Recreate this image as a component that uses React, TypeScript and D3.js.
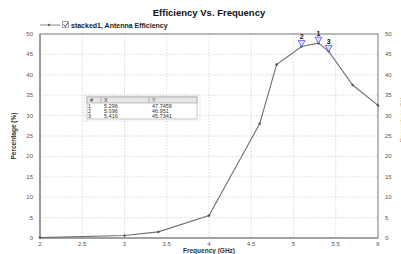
import * as d3 from 'd3';

const freq = [2, 3, 3.4, 4, 4.6, 4.8, 5.096, 5.296, 5.416, 5.7, 6];
const eff = [0.1, 0.6, 1.5, 5.5, 28, 42.5, 46.95, 47.75, 45.73, 37.5, 32.5];

const xTicks = [2, 2.5, 3, 3.5, 4, 4.5, 5, 5.5, 6];
const yTicks = [0, 5, 10, 15, 20, 25, 30, 35, 40, 45, 50];

const markerIds = ['1', '2', '3'];
const markerX = [5.296, 5.096, 5.416];
const markerY = [47.7459, 46.951, 45.7341];

const W = 401;
const H = 254;
const font = 'Liberation Sans, Arial, sans-serif';

export default function App() {
  const x = d3.scaleLinear().domain([2, 6]).range([40, 378]);
  const y = d3.scaleLinear().domain([0, 50]).range([238, 34]);
  const pts: [number, number][] = freq.map((f, i) => [f, eff[i]]);
  const line = d3
    .line<[number, number]>()
    .x((d) => x(d[0]))
    .y((d) => y(d[1]));

  const tri = (cx: number, cy: number) =>
    `M${cx - 3.5},${cy - 6} L${cx + 3.5},${cy - 6} L${cx},${cy} Z`;

  // marker table layout
  const tx = 87;
  const ty = 97;
  const tw = 110;
  const rowH = 5;

  return (
    <svg
      width={W}
      height={H}
      style={{ position: 'absolute', left: 0, top: 0, background: '#fff' }}
      fontFamily={font}
    >
      <text x={209} y={16} textAnchor="middle" fontSize={9.5} fontWeight="bold" fill="#111">
        Efficiency Vs. Frequency
      </text>

      {/* legend */}
      <g>
        <line x1={40} x2={60} y1={25} y2={25} stroke="#888" strokeWidth={1} />
        <circle cx={49} cy={25} r={1.3} fill="#666" />
        <rect x={62.5} y={21.5} width={6} height={6} fill="#fff" stroke="#8a8ab0" strokeWidth={0.8} />
        <path d="M63.5,24.5 L65.3,26.5 L68,22.5" fill="none" stroke="#333" strokeWidth={0.9} />
        <text x={71} y={27.5} fontSize={7} fontWeight="bold" fill="#222">
          stacked1, Antenna Efficiency
        </text>
      </g>

      {/* grid */}
      {xTicks.slice(1, -1).map((t) => (
        <line key={'gx' + t} x1={x(t)} x2={x(t)} y1={y(50)} y2={y(0)} stroke="#ccc" strokeWidth={0.7} strokeDasharray="1.5,1.5" />
      ))}
      {yTicks.slice(1, -1).map((t) => (
        <line key={'gy' + t} x1={x(2)} x2={x(6)} y1={y(t)} y2={y(t)} stroke="#ccc" strokeWidth={0.7} strokeDasharray="1.5,1.5" />
      ))}

      {/* frame */}
      <rect x={x(2)} y={y(50)} width={x(6) - x(2)} height={y(0) - y(50)} fill="none" stroke="#777" strokeWidth={1} />
      <line x1={x(2)} x2={x(2)} y1={y(50)} y2={y(0)} stroke="#999" strokeWidth={2} />
      <line x1={x(2)} x2={x(6)} y1={y(0)} y2={y(0)} stroke="#999" strokeWidth={1.5} />

      {/* tick labels */}
      {yTicks.map((t) => (
        <g key={'yl' + t} fontSize={6} fill="#555">
          <text x={33} y={y(t) + 2} textAnchor="end">{t}</text>
          <text x={385} y={y(t) + 2}>{t}</text>
        </g>
      ))}
      {xTicks.map((t) => (
        <text key={'xl' + t} x={x(t)} y={246} fontSize={6} fill="#555" textAnchor="middle">
          {t}
        </text>
      ))}

      <text x={209} y={253} fontSize={6.5} fontWeight="bold" fill="#333" textAnchor="middle">
        Frequency (GHz)
      </text>
      <text
        transform={`translate(16,${y(25)}) rotate(-90)`}
        fontSize={6.5}
        fontWeight="bold"
        fill="#333"
        textAnchor="middle"
      >
        Percentage (%)
      </text>
      <text
        transform={`translate(405,${y(29)}) rotate(-90)`}
        fontSize={6.5}
        fill="#e08a2a"
        textAnchor="middle"
      >
        Percentage (%)
      </text>

      {/* data line */}
      <path d={line(pts) ?? ''} fill="none" stroke="#707070" strokeWidth={1.1} />
      {pts.map((d, i) => (
        <path
          key={'pt' + i}
          d={`M${x(d[0])},${y(d[1]) - 1.6} l1.6,1.6 l-1.6,1.6 l-1.6,-1.6 Z`}
          fill="#555"
        />
      ))}

      {/* markers */}
      {markerIds.map((id, i) => (
        <g key={'m' + id}>
          <path d={tri(x(markerX[i]), y(markerY[i]))} fill="#dfe0ff" stroke="#6464f0" strokeWidth={0.9} />
          <text x={x(markerX[i])} y={y(markerY[i]) - 7.5} fontSize={7} fontWeight="bold" fill="#111" textAnchor="middle">
            {id}
          </text>
        </g>
      ))}

      {/* marker table */}
      <rect x={tx - 3} y={ty - 2} width={tw + 6} height={rowH * 4 + 6} fill="none" stroke="#bbb" strokeWidth={0.6} strokeDasharray="1,1" />
      <rect x={tx} y={ty} width={tw} height={rowH * 4 + 2} fill="#fff" stroke="#999" strokeWidth={0.6} />
      <rect x={tx} y={ty} width={tw} height={rowH + 1} fill="#e6e6e6" stroke="#999" strokeWidth={0.6} />
      <line x1={101} x2={101} y1={ty} y2={ty + rowH + 1} stroke="#999" strokeWidth={0.6} />
      <line x1={149} x2={149} y1={ty} y2={ty + rowH + 1} stroke="#999" strokeWidth={0.6} />
      <g fontSize={5.5} fill="#333">
        <text x={90} y={ty + 5}>#</text>
        <text x={104} y={ty + 5}>X</text>
        <text x={152} y={ty + 5}>Y</text>
        {markerIds.map((id, i) => (
          <g key={'row' + id}>
            <text x={88} y={ty + 11 + i * rowH}>{id}</text>
            <text x={104} y={ty + 11 + i * rowH}>{markerX[i]}</text>
            <text x={152} y={ty + 11 + i * rowH}>{markerY[i]}</text>
          </g>
        ))}
      </g>
    </svg>
  );
}
